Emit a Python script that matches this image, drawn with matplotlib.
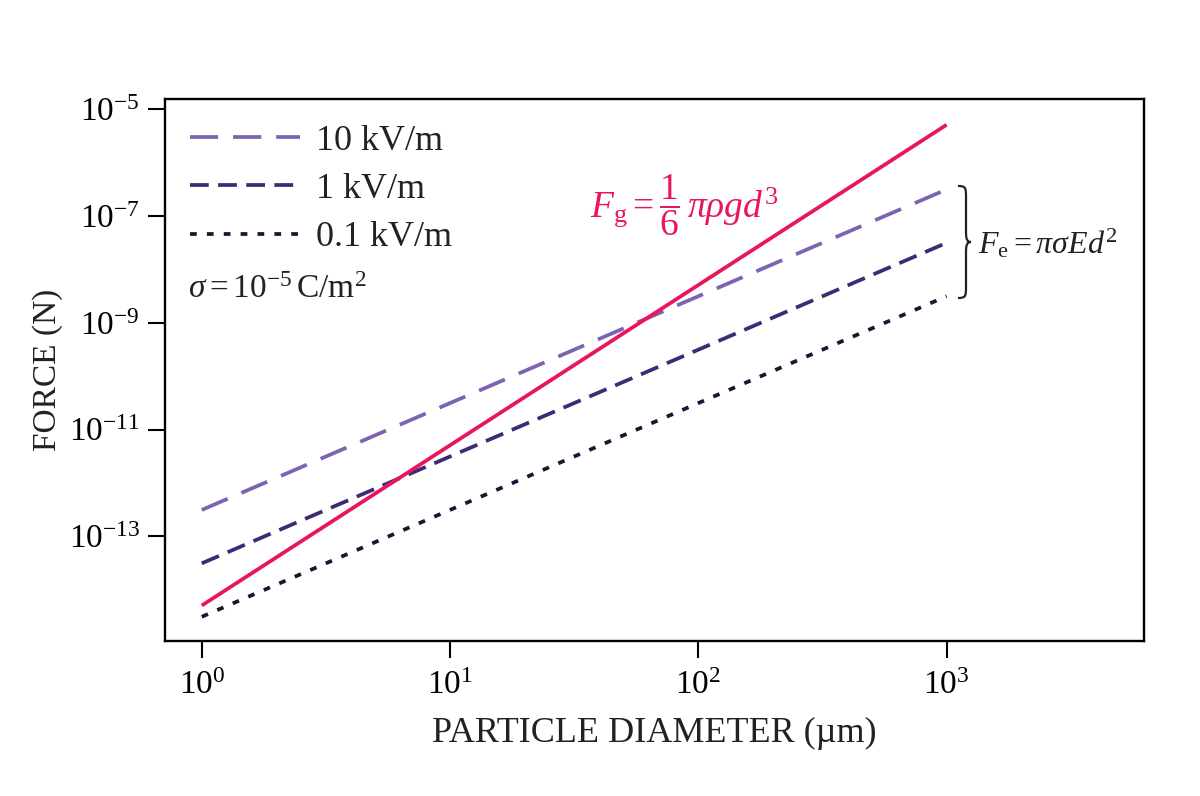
import numpy as np
import matplotlib
matplotlib.use("Agg")
from matplotlib import pyplot as plt
from matplotlib.path import Path
from matplotlib.patches import PathPatch

plt.rcParams['font.family'] = ['Liberation Serif', 'DejaVu Serif']
plt.rcParams['mathtext.fontset'] = 'custom'
plt.rcParams['mathtext.rm'] = 'Liberation Serif'
plt.rcParams['mathtext.it'] = 'Liberation Serif:italic'
plt.rcParams['mathtext.cal'] = 'Liberation Serif'

# particle diameter (um), end points of each straight line on log-log axes
diameter = [1, 1000]
# gravity force (N)
force_grav = [5.1e-15, 5.1e-6]
# electric force (N) for the three field strengths
force_10kv = [3.14e-13, 3.14e-7]
force_1kv = [3.14e-14, 3.14e-8]
force_01kv = [3.14e-15, 3.14e-9]

field_labels = ['10 kV/m', '1 kV/m', '0.1 kV/m']
x_ticks = [1, 10, 100, 1000]
x_ticklabels = ['$10^{0}$', '$10^{1}$', '$10^{2}$', '$10^{3}$']
y_ticks = [1e-13, 1e-11, 1e-9, 1e-7, 1e-5]
y_ticklabels = ['$10^{-13}$', '$10^{-11}$', '$10^{-9}$', '$10^{-7}$', '$10^{-5}$']

RED = '#e8175d'
LIGHT = '#7d64b2'
DARK = '#3e2a76'
BLACK = '#1a1530'
TXT = '#222222'
FS = 23

fig = plt.figure(figsize=(12, 7.96), dpi=100)
ax = fig.add_axes([165 / 1200, 155 / 796, 979 / 1200, 542 / 796])

lw = 2.7
l1, = ax.plot(diameter, force_10kv, color=LIGHT, lw=lw, dashes=(7.5, 4), label=field_labels[0])
l2, = ax.plot(diameter, force_1kv, color=DARK, lw=lw, dashes=(5, 2.5), label=field_labels[1])
l3, = ax.plot(diameter, force_01kv, color=BLACK, lw=lw, dashes=(1.8, 2.7), label=field_labels[2])
ax.plot(diameter, force_grav, color=RED, lw=lw, solid_capstyle='butt')

ax.set_xscale('log')
ax.set_yscale('log')
ax.set_xlim(0.711, 6240)
ax.set_ylim(10 ** -14.957, 10 ** -4.81)
ax.set_xticks(x_ticks)
ax.set_xticklabels(x_ticklabels)
ax.set_yticks(y_ticks)
ax.set_yticklabels(y_ticklabels)
ax.minorticks_off()
ax.tick_params(axis='both', which='major', direction='out', length=12,
               width=1.5, labelsize=FS + 1, color='black')
ax.tick_params(axis='x', pad=9)
ax.tick_params(axis='y', pad=6)
for s in ax.spines.values():
    s.set_linewidth(1.7)

ax.set_xlabel('PARTICLE DIAMETER (µm)', fontsize=26, labelpad=12, color=TXT)
ax.set_ylabel('FORCE (N)', fontsize=24, labelpad=4, color=TXT)

leg = ax.legend(handles=[l1, l2, l3], loc='upper left', bbox_to_anchor=(0.0, 1.0),
                frameon=False, fontsize=26, handlelength=3.05, handletextpad=0.42,
                labelspacing=0.42, borderaxespad=0.3)
for t in leg.get_texts():
    t.set_color(TXT)

ax.text(0.023, 0.648, r'$\sigma = 10^{-5}\,\mathrm{C/m^2}$', transform=ax.transAxes,
        fontsize=24, color=TXT, va='center', ha='left')

ax.text(0.434, 0.805, r'$F_{\mathrm{g}} = \dfrac{1}{6}\,\pi\rho g d^{3}$',
        transform=ax.transAxes, fontsize=27, color=RED, va='center', ha='left')

ax.text(0.830, 0.734, r'$F_{\mathrm{e}} = \pi\sigma E d^{2}$', transform=ax.transAxes,
        fontsize=FS, color=TXT, va='center', ha='left')


# curly brace grouping the three field lines (pixel coords -> axes fraction)
def px(x, y):
    return ((x - 165) / 979, (641 - y) / 542)


top, bot, xl, xr = 186, 298, 958, 971
mid = (top + bot) / 2
xm = xl + 8
verts = [px(xl, top),
         px(xm, top), px(xm, top + 2), px(xm, top + 12),
         px(xm, mid - 10),
         px(xm, mid - 3), px(xm + 1, mid), px(xr, mid),
         px(xm + 1, mid), px(xm, mid + 3), px(xm, mid + 10),
         px(xm, bot - 12),
         px(xm, bot - 2), px(xm, bot), px(xl, bot)]
codes = [Path.MOVETO,
         Path.CURVE4, Path.CURVE4, Path.CURVE4,
         Path.LINETO,
         Path.CURVE4, Path.CURVE4, Path.CURVE4,
         Path.CURVE4, Path.CURVE4, Path.CURVE4,
         Path.LINETO,
         Path.CURVE4, Path.CURVE4, Path.CURVE4]
brace = PathPatch(Path(verts, codes), transform=ax.transAxes, fill=False,
                  lw=1.6, edgecolor=TXT, clip_on=False)
ax.add_patch(brace)

fig.savefig('out.png', dpi=100)
